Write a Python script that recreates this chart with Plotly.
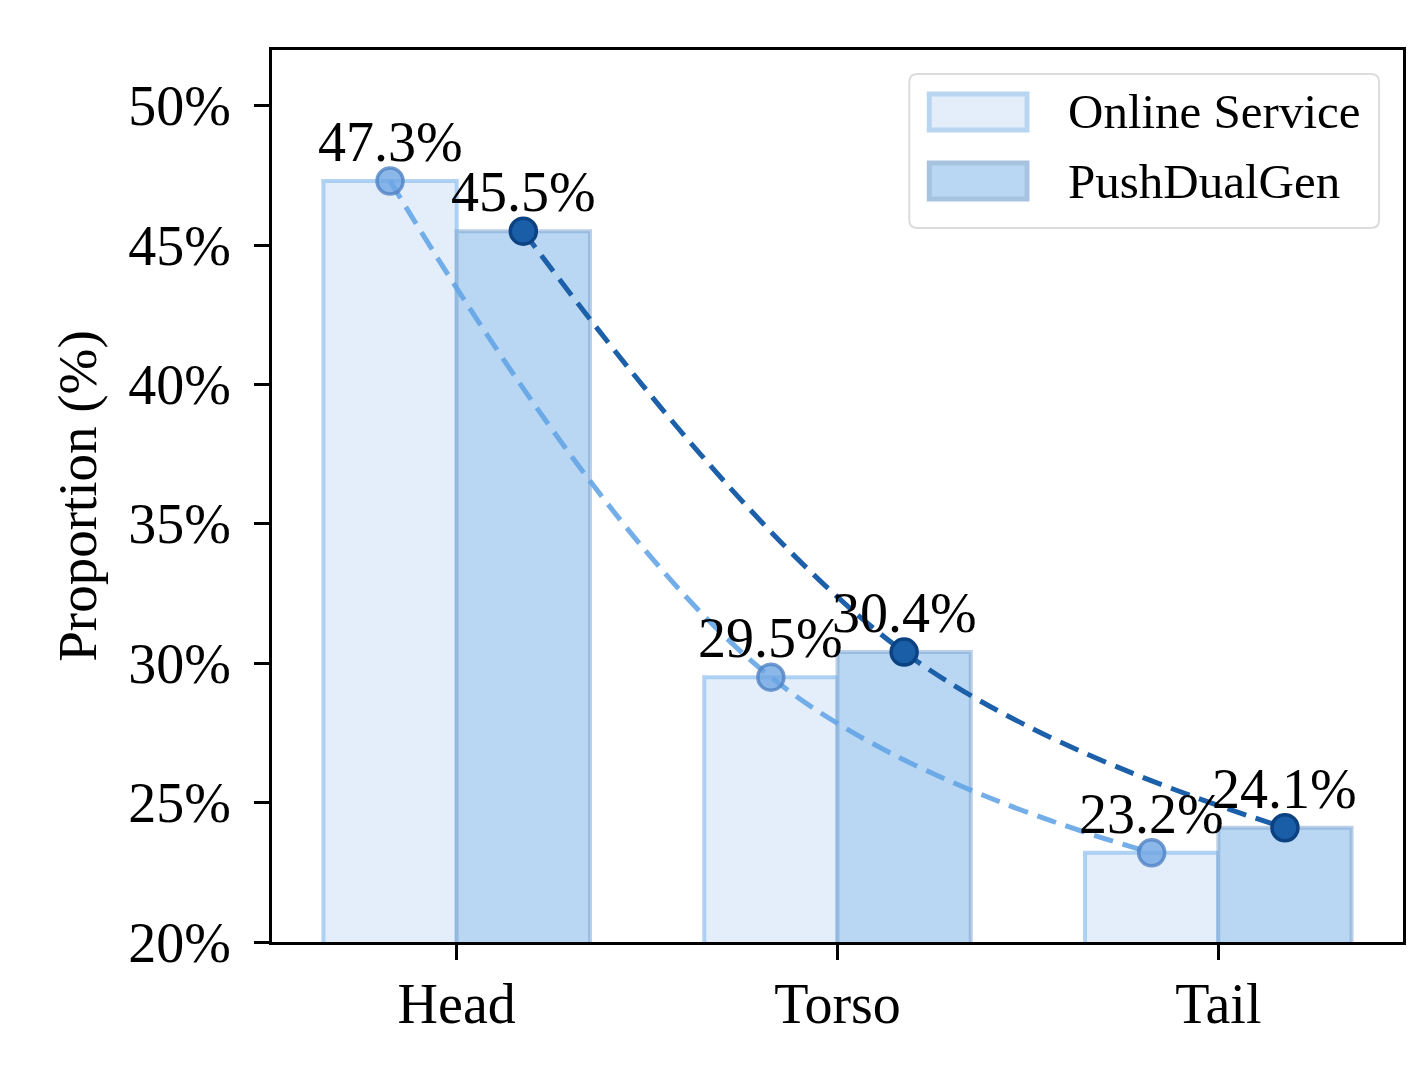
import plotly.graph_objects as go

# data
categories = ['Head', 'Torso', 'Tail']
online = [47.3, 29.5, 23.2]
pushdual = [45.5, 30.4, 24.1]
y_ticks = [20, 25, 30, 35, 40, 45, 50]

FONT = 'Liberation Serif, Times New Roman, serif'

# plot area in pixels (body margin removed below, so page px == figure px)
W, H = 1410, 1080
L, R, T, B = 272, 1406, 50, 942


def px(x):
    return (x - L) / (R - L)


def py(y):
    return (B - y) / (B - T)


xs = list(range(len(categories)))
half = 0.175
x_on = [i - half for i in xs]
x_pd = [i + half for i in xs]

fig = go.Figure()

# bars
fig.add_trace(go.Bar(x=xs, y=online, name='Online Service',
                     marker=dict(color='#e4eefa',
                                 line=dict(color='rgba(150,196,240,0.75)', width=4))))
fig.add_trace(go.Bar(x=xs, y=pushdual, name='PushDualGen',
                     marker=dict(color='#b9d7f2',
                                 line=dict(color='rgba(120,160,205,0.5)', width=4))))

# dashed smooth curves + points
fig.add_trace(go.Scatter(x=x_on, y=online, mode='lines',
                         line=dict(color='rgba(100,165,230,0.9)', width=5, dash='20px,10px',
                                   shape='spline', smoothing=1.1)))
fig.add_trace(go.Scatter(x=x_pd, y=pushdual, mode='lines',
                         line=dict(color='#1c60aa', width=5, dash='20px,10px',
                                   shape='spline', smoothing=1.1)))
fig.add_trace(go.Scatter(x=x_on, y=online, mode='markers',
                         marker=dict(size=26, color='rgba(110,165,228,0.8)',
                                     line=dict(color='rgba(80,130,195,0.8)', width=3.5))))
fig.add_trace(go.Scatter(x=x_pd, y=pushdual, mode='markers',
                         marker=dict(size=26, color='#1a5ea8',
                                     line=dict(color='#0c4282', width=3.5))))

# value labels above the points
for xv, vals in [(x_on, online), (x_pd, pushdual)]:
    for xi, v in zip(xv, vals):
        fig.add_annotation(x=xi, y=v, text=f'{v}%', showarrow=False,
                           yanchor='bottom', yshift=7, borderpad=0,
                           font=dict(family=FONT, size=56, color='black'))

# legend drawn by hand so the patches keep their wide shape
rx, ry = 8 / (R - L), 8 / (B - T)
x0, x1, y0, y1 = px(911), px(1382), py(228), py(74)
box = (f'M {x0+rx},{y0} L {x1-rx},{y0} Q {x1},{y0} {x1},{y0+ry} '
       f'L {x1},{y1-ry} Q {x1},{y1} {x1-rx},{y1} L {x0+rx},{y1} '
       f'Q {x0},{y1} {x0},{y1-ry} L {x0},{y0+ry} Q {x0},{y0} {x0+rx},{y0} Z')
fig.add_shape(type='path', path=box, xref='paper', yref='paper',
              fillcolor='rgba(255,255,255,0.85)', line=dict(color='#dcdcdc', width=2))
fig.add_shape(type='rect', xref='paper', yref='paper',
              x0=px(931), x1=px(1029), y0=py(130), y1=py(94),
              fillcolor='#e4eefa', line=dict(color='#b8d6f2', width=5))
fig.add_shape(type='rect', xref='paper', yref='paper',
              x0=px(931), x1=px(1029), y0=py(199), y1=py(163),
              fillcolor='#b9d7f2', line=dict(color='#a8c3df', width=5))
for name, yc in [('Online Service', 112), ('PushDualGen', 181)]:
    fig.add_annotation(text=name, xref='paper', yref='paper', x=px(1068), y=py(yc),
                       xanchor='left', yanchor='middle', showarrow=False,
                       font=dict(family=FONT, size=49, color='black'))

fig.update_layout(
    width=W, height=H,
    margin=dict(l=L, r=W - R, t=T, b=H - B),
    plot_bgcolor='white', paper_bgcolor='white',
    barmode='group', bargap=0.3, bargroupgap=0,
    showlegend=False,
    font=dict(family=FONT, size=56, color='black'),
)
fig.update_xaxes(range=[-0.485, 2.485], tickvals=xs, ticktext=categories,
                 ticks='outside', ticklen=15, tickwidth=3, tickcolor='black',
                 showline=True, linewidth=3, linecolor='black', mirror=True,
                 showgrid=False, zeroline=False, ticklabelstandoff=-4)
fig.update_yaxes(range=[20, 52], tickvals=y_ticks,
                 ticktext=[f'{v}%' for v in y_ticks],
                 ticks='outside', ticklen=15, tickwidth=3, tickcolor='black',
                 showline=True, linewidth=3, linecolor='black', mirror=True,
                 showgrid=False, zeroline=False, ticklabelstandoff=12,
                 title=dict(text='Proportion (%)', standoff=14,
                            font=dict(family=FONT, size=55)))

fig.write_html('out.html', config={'displayModeBar': False},
               post_script="document.body.style.margin='0';")
